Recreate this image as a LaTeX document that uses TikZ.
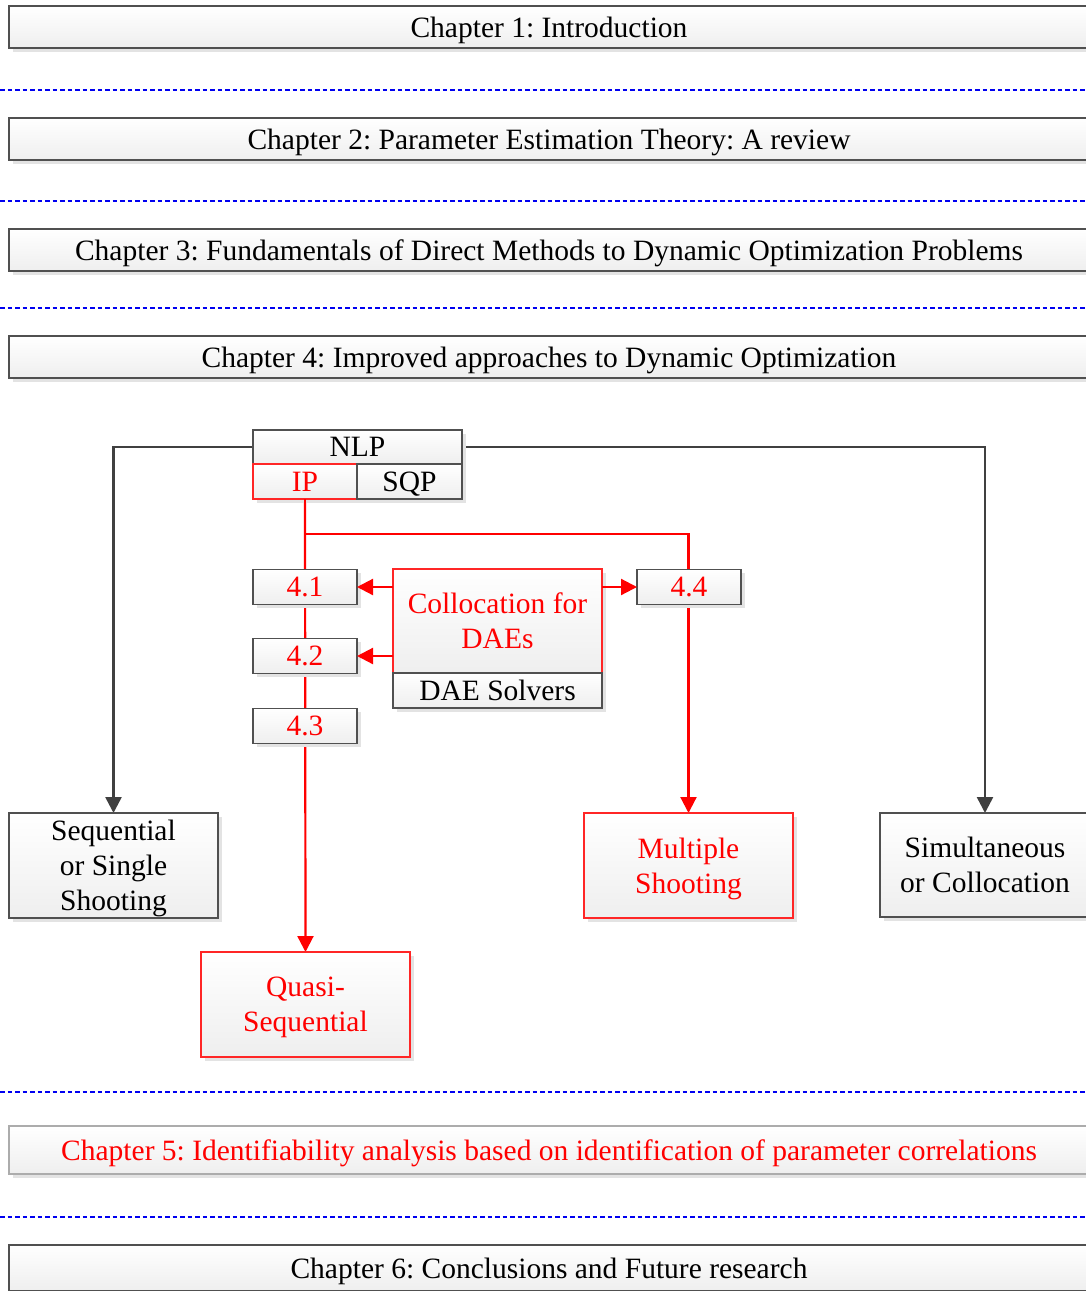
\documentclass[tikz,border=0pt]{standalone}
\usepackage{fontspec}
\setmainfont{Liberation Serif}
\frenchspacing
\usetikzlibrary{shadows,backgrounds,arrows.meta}
\definecolor{edgegray}{HTML}{505050}
\definecolor{linkgray}{HTML}{404040}
\definecolor{hired}{HTML}{FF0000}
\definecolor{sepblue}{HTML}{0000F0}
\tikzset{
  box/.style={draw=edgegray, line width=1.2pt, top color=white, bottom color=gray!13,
    drop shadow={shadow xshift=3.5pt, shadow yshift=-3.5pt, fill=gray!22, opacity=1},
    inner sep=0pt, outer sep=0pt, align=center, text=black, text depth=0pt,
    font=\fontsize{29.5}{35}\selectfont},
  redbox/.style={box, draw=hired!85, text=hired},
  chapbox/.style={box, minimum width=1080pt},
  sepline/.style={draw=sepblue, line width=1.6pt, dash pattern=on 4.5pt off 3pt},
  redlink/.style={draw=hired, line width=2.2pt},
  graylink/.style={draw=linkgray, line width=2.5pt},
  tip/.style={-{Triangle[length=16pt,width=16pt]}}
}
\begin{document}
\begin{tikzpicture}[x=1pt,y=-1pt]
\useasboundingbox (0,0) rectangle (1086,1291);

% chapter bars
\node[chapbox, minimum height=42pt] (ch1) at (549,27) {Chapter 1: Introduction};
\node[chapbox, minimum height=42pt] (ch2) at (549,139) {Chapter 2: Parameter Estimation Theory: A review};
\node[chapbox, minimum height=42pt] (ch3) at (549,250) {Chapter 3: Fundamentals of Direct Methods to Dynamic Optimization Problems};
\node[chapbox, minimum height=42pt] (ch4) at (549,357) {Chapter 4: Improved approaches to Dynamic Optimization};
\node[chapbox, minimum height=48pt, draw=gray!65, text=hired] (ch5) at (549,1150) {Chapter 5: Identifiability analysis based on identification of parameter correlations};
\node[chapbox, minimum height=46pt] (ch6) at (549,1268) {Chapter 6: Conclusions and Future research};

% separators
\coordinate (s1l) at (0,90);   \coordinate (s1r) at (1086,90);
\coordinate (s2l) at (0,201);  \coordinate (s2r) at (1086,201);
\coordinate (s3l) at (0,308);  \coordinate (s3r) at (1086,308);
\coordinate (s4l) at (0,1092); \coordinate (s4r) at (1086,1092);
\coordinate (s5l) at (0,1217); \coordinate (s5r) at (1086,1217);
\foreach \s in {1,...,5} \draw[sepline] (s\s l) -- (s\s r);

% solver boxes
\node[box, minimum width=209pt, minimum height=34pt] (nlp) at (357.5,447) {NLP};
\node[redbox, minimum width=104pt, minimum height=35pt] (ip) at (305,481.5) {IP};
\node[box, minimum width=105pt, minimum height=35pt] (sqp) at (409.5,481.5) {SQP};

\node[box, text=hired, minimum width=104pt, minimum height=35pt] (b41) at (305,587) {4.1};
\node[box, text=hired, minimum width=104pt, minimum height=35pt] (b42) at (305,656) {4.2};
\node[box, text=hired, minimum width=104pt, minimum height=35pt] (b43) at (305,726) {4.3};
\node[box, text=hired, minimum width=104pt, minimum height=35pt] (b44) at (689,587) {4.4};

\node[redbox, minimum width=209pt, minimum height=104pt] (coll) at (497.5,621) {Collocation for\\DAEs};
\node[box, minimum width=209pt, minimum height=35pt] (dae) at (497.5,690.5) {DAE Solvers};

% method boxes
\node[box, minimum width=209pt, minimum height=105pt] (seq) at (113.5,865.5) {Sequential\\or Single\\Shooting};
\node[redbox, minimum width=209pt, minimum height=105pt] (multi) at (688.5,865.5) {Multiple\\Shooting};
\node[box, minimum width=210pt, minimum height=104pt] (simul) at (985,865) {Simultaneous\\or Collocation};
\node[redbox, minimum width=209pt, minimum height=105pt] (quasi) at (305.5,1004.5) {Quasi-\\Sequential};

\coordinate (split) at (305,534);

\begin{scope}[on background layer]
  \draw[graylink, tip] (nlp.west) -| (seq.north);
  \draw[graylink, tip] (nlp.east) -| (simul.north);
  \draw[redlink, tip] (ip.south) -- (quasi.north);
  \draw[redlink, tip] (split) -| (multi.north);
\end{scope}
% the trunk leaves IP in front of its shadow
\draw[redlink] (ip.south) -- (split);

\draw[redlink, tip] (coll.west |- b41) -- (b41.east);
\draw[redlink, tip] (coll.west |- b42) -- (b42.east);
\draw[redlink, tip] (coll.east |- b44) -- (b44.west);
\end{tikzpicture}
\end{document}
